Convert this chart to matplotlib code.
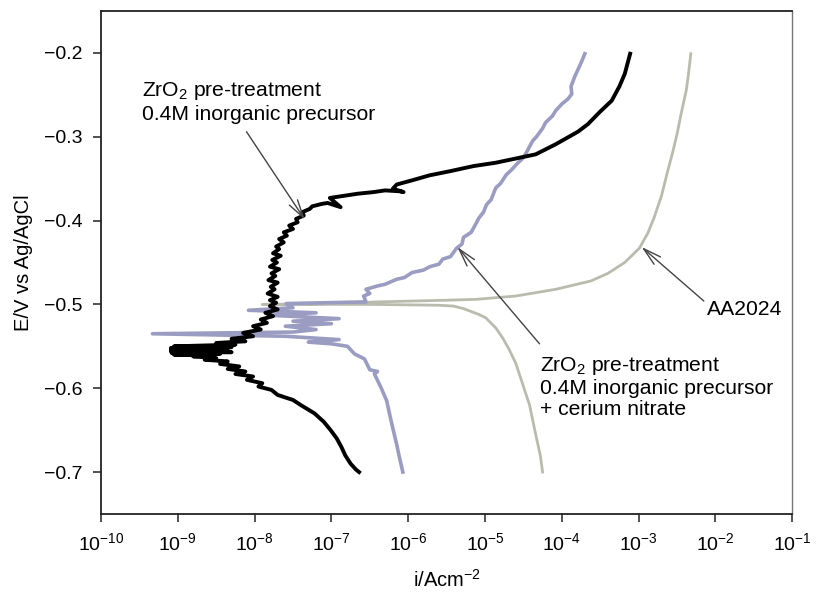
import matplotlib.pyplot as plt
import numpy as np

plt.rcParams['font.family'] = ['Liberation Sans', 'DejaVu Sans']
plt.rcParams['mathtext.fontset'] = 'custom'
plt.rcParams['mathtext.rm'] = 'Liberation Sans'
plt.rcParams['mathtext.it'] = 'Liberation Sans:italic'

# log10 of current density (A/cm2) and potential (V vs Ag/AgCl)
zr_logi = [-6.64, -6.68, -6.75, -6.82, -6.87, -6.93, -7.01, -7.10, -7.22, -7.40, -7.50,
           -7.70, -7.78, -7.95, -7.90, -8.10, -8.02, -8.25, -8.12, -8.35, -8.20, -8.45,
           -8.35, -8.65, -8.50, -8.80, -8.55, -9.05, -8.45, -9.08, -8.30, -9.09, -8.40,
           -9.09, -8.35, -9.09, -8.30, -9.05, -8.25, -8.50, -8.12, -8.30, -8.02, -8.15,
           -7.92, -8.02, -7.84, -7.92, -7.76, -7.86, -7.70, -7.80,
           -7.72, -7.80, -7.70, -7.83, -7.74, -7.79, -7.70, -7.82, -7.73, -7.78, -7.68,
           -7.80, -7.71, -7.77, -7.66, -7.76, -7.68, -7.72, -7.62, -7.68, -7.58, -7.62,
           -7.50, -7.55, -7.44, -7.46, -7.36, -7.38, -7.28, -7.25, -7.12, -7.05, -6.88,
           -7.02, -6.66, -6.45, -6.30, -6.12, -6.06, -6.20, -6.15, -5.95, -5.72, -5.45,
           -5.15, -4.86, -4.60, -4.34, -4.08, -3.79, -3.66, -3.50, -3.35, -3.25, -3.18, -3.11]
zr_e = [-0.700, -0.697, -0.690, -0.680, -0.670, -0.660, -0.650, -0.640, -0.630, -0.620, -0.614,
        -0.608, -0.602, -0.598, -0.594, -0.590, -0.586, -0.583, -0.580, -0.577, -0.574, -0.571,
        -0.568, -0.566, -0.564, -0.562, -0.561, -0.560, -0.559, -0.558, -0.557, -0.556, -0.555,
        -0.554, -0.553, -0.552, -0.551, -0.550, -0.548, -0.546, -0.544, -0.541, -0.538, -0.534,
        -0.530, -0.526, -0.522, -0.518, -0.514, -0.510, -0.506, -0.502,
        -0.498, -0.495, -0.491, -0.487, -0.482, -0.479, -0.474, -0.471, -0.466, -0.463, -0.458,
        -0.455, -0.450, -0.447, -0.442, -0.439, -0.434, -0.431, -0.426, -0.422, -0.418, -0.414,
        -0.410, -0.406, -0.402, -0.398, -0.394, -0.390, -0.386, -0.383, -0.380, -0.379, -0.384,
        -0.373, -0.368, -0.366, -0.364, -0.365, -0.366, -0.362, -0.357, -0.352, -0.346, -0.341,
        -0.335, -0.331, -0.326, -0.321, -0.309, -0.294, -0.285, -0.270, -0.257, -0.240, -0.225, -0.201]

ce_logi = [-6.07, -6.12, -6.15, -6.22, -6.28, -6.35, -6.44, -6.40, -6.50, -6.57, -6.70,
           -6.79, -7.00, -7.30, -6.90, -7.60, -9.33, -7.50, -7.20, -7.60, -7.00, -7.50,
           -6.90, -7.80, -7.20, -8.08, -7.50, -7.59, -6.55, -6.58, -6.50, -6.55, -6.40,
           -6.30, -6.15, -6.05, -5.95, -5.80, -5.72, -5.60, -5.55, -5.45, -5.37, -5.30,
           -5.28, -5.18, -5.12, -5.08, -5.02, -4.98, -4.92, -4.86, -4.80, -4.72, -4.66,
           -4.58, -4.50, -4.45, -4.38, -4.33, -4.25, -4.21, -4.12, -4.08, -4.00, -3.92,
           -3.87, -3.88, -3.83, -3.78, -3.74, -3.70]
ce_e = [-0.700, -0.680, -0.667, -0.640, -0.615, -0.600, -0.583, -0.580, -0.578, -0.565, -0.559,
        -0.550, -0.547, -0.545, -0.542, -0.538, -0.535, -0.533, -0.530, -0.526, -0.523, -0.520,
        -0.517, -0.513, -0.510, -0.507, -0.504, -0.499, -0.497, -0.490, -0.487, -0.482, -0.478,
        -0.476, -0.470, -0.468, -0.462, -0.459, -0.455, -0.452, -0.446, -0.443, -0.433, -0.428,
        -0.420, -0.414, -0.404, -0.397, -0.390, -0.381, -0.375, -0.361, -0.356, -0.345, -0.340,
        -0.332, -0.325, -0.317, -0.305, -0.300, -0.290, -0.283, -0.275, -0.269, -0.261, -0.255,
        -0.249, -0.240, -0.228, -0.218, -0.210, -0.201]

aa_logi = [-4.25, -4.28, -4.34, -4.42, -4.51, -4.60, -4.69, -4.77, -4.86, -4.99, -5.08,
           -5.28, -5.41, -5.60, -6.50, -7.50, -7.90, -7.00, -6.40, -5.50, -5.12, -4.60,
           -4.08, -3.62, -3.40, -3.18, -2.99, -2.88, -2.80, -2.70, -2.63, -2.56, -2.50,
           -2.44, -2.38, -2.35, -2.32]
aa_e = [-0.700, -0.680, -0.655, -0.620, -0.595, -0.570, -0.553, -0.540, -0.528, -0.516, -0.512,
        -0.505, -0.502, -0.501, -0.500, -0.500, -0.500, -0.499, -0.497, -0.495, -0.494, -0.490,
        -0.482, -0.472, -0.463, -0.450, -0.433, -0.415, -0.397, -0.370, -0.344, -0.320, -0.297,
        -0.270, -0.245, -0.225, -0.201]

fig = plt.figure(figsize=(8.16, 5.94), dpi=100)
ax = fig.add_axes([0.1238, 0.1347, 0.847, 0.8468])

ax.plot(10 ** np.array(aa_logi), aa_e, color='#b9bcad', lw=2.0)
ax.plot(10 ** np.array(ce_logi), ce_e, color='#9a9cc2', lw=2.6)
ax.plot(10 ** np.array(zr_logi), zr_e, color='black', lw=2.8)

ax.set_xscale('log')
ax.set_xlim(1e-10, 1e-1)
ax.set_ylim(-0.75, -0.15)
ax.set_xticks([10.0 ** k for k in range(-10, 0)])
ax.set_yticks([-0.7, -0.6, -0.5, -0.4, -0.3, -0.2])
ax.set_yticklabels(['\u22120.7', '\u22120.6', '\u22120.5', '\u22120.4', '\u22120.3', '\u22120.2'])
ax.tick_params(axis='both', which='major', labelsize=14, length=6, width=1.2, color='#333333', pad=7)
ax.tick_params(axis='x', which='minor', length=3.5, width=1.0, color='#333333')
ax.tick_params(axis='y', which='minor', left=False)
for s in ['top', 'left', 'bottom']:
    ax.spines[s].set_linewidth(1.3)
    ax.spines[s].set_color('#222222')
ax.spines['right'].set_linewidth(1.0)
ax.spines['right'].set_color('#777777')

ax.set_xlabel('i/Acm$^{-2}$', fontsize=14.5, labelpad=11)
ax.set_ylabel('E/V vs Ag/AgCl', fontsize=14.5, labelpad=8)

arrow = dict(arrowstyle='->,head_length=1.3,head_width=0.35', color='#444444', lw=1.0,
             shrinkA=0, shrinkB=0)
ax.annotate('', xy=(10 ** -7.345, -0.399), xytext=(10 ** -8.106, -0.294), arrowprops=arrow)
ax.annotate('', xy=(10 ** -5.36, -0.4315), xytext=(10 ** -4.29, -0.547), arrowprops=arrow)
ax.annotate('', xy=(10 ** -2.96, -0.4315), xytext=(10 ** -2.15, -0.496), arrowprops=arrow)

ax.text(10 ** -9.47, -0.2585, 'ZrO$_2$ pre-treatment\n0.4M inorganic precursor',
        fontsize=15.2, va='center', ha='left', linespacing=1.15)
ax.text(10 ** -4.28, -0.5986, 'ZrO$_2$ pre-treatment\n0.4M inorganic precursor\n+ cerium nitrate',
        fontsize=15.2, va='center', ha='left', linespacing=1.15)
ax.text(10 ** -2.113, -0.5055, 'AA2024', fontsize=15.2, va='center', ha='left')

fig.savefig('out.png', dpi=100)
